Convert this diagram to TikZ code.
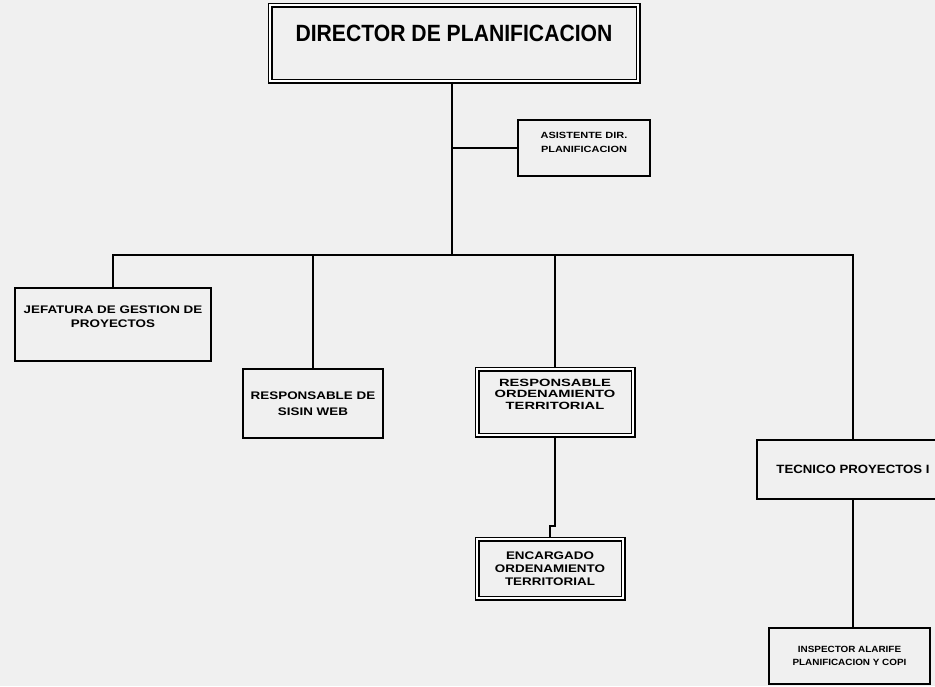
\documentclass[tikz,border=0pt]{standalone}
\usepackage{fontspec}
\setmainfont{Liberation Sans}
\newfontfamily\dirfont[FakeStretch=0.9]{Liberation Sans}
\newfontfamily\semiwidefont[FakeStretch=1.1]{Liberation Sans}
\newfontfamily\widefont[FakeStretch=1.22]{Liberation Sans}
\newfontfamily\widerfont[FakeStretch=1.4]{Liberation Sans}
\usetikzlibrary{calc,positioning}

\tikzset{
  box/.style={draw, line width=2pt, align=center, font=\bfseries, inner sep=2pt},
  thickbox/.style={box, double, double distance=1.4pt, line width=1.8pt},
  lbl/.style={align=center, inner sep=0pt},
  link/.style={line width=2pt}
}

\begin{document}
\begin{tikzpicture}[x=1pt,y=-1pt]
                \useasboundingbox[fill=black!6] (0,0) rectangle (935,686);
                \node[thickbox, minimum width=368pt, minimum height=76pt] (dir) at (454,43) {};
                \node[lbl, font=\dirfont\bfseries\fontsize{23.5}{28}\selectfont] (dirtxt) at ($(dir.center)+(0,-10)$) {DIRECTOR DE PLANIFICACION};
                \node[box, minimum width=132pt, minimum height=56pt] (asis) at (584,148) {};
                \node[lbl, font=\widefont\bfseries\fontsize{9}{14}\selectfont] (asistxt) at ($(asis.center)+(0,-6)$) {ASISTENTE DIR.\\PLANIFICACION};
                \node[box, minimum width=196pt, minimum height=73pt] (jef) at (113,324.5) {};
                \node[lbl, font=\widefont\bfseries\fontsize{11}{14}\selectfont, below=19pt of jef.north] (jeftxt) {JEFATURA DE GESTION DE\\PROYECTOS};
                \node[box, minimum width=140pt, minimum height=69pt, font=\widefont\bfseries\fontsize{11}{16}\selectfont] (sisin) at (313,403.5) {RESPONSABLE DE\\SISIN WEB};
                \node[thickbox, minimum width=156pt, minimum height=66pt] (rot) at (555,402) {};
                \node[lbl, font=\widerfont\bfseries\fontsize{10.5}{11.5}\selectfont] (rottxt) at ($(rot.center)+(0,-8)$) {RESPONSABLE\\ORDENAMIENTO\\TERRITORIAL};
                \node[thickbox, minimum width=146pt, minimum height=59pt, font=\widefont\bfseries\fontsize{11}{13}\selectfont] (enc) at (550,568.5) {ENCARGADO\\ORDENAMIENTO\\TERRITORIAL};
                \node[box, minimum width=192pt, minimum height=59pt, font=\semiwidefont\bfseries\fontsize{12}{15}\selectfont] (tec) at (853,469.5) {TECNICO PROYECTOS I};
                \node[box, minimum width=161pt, minimum height=56pt, font=\semiwidefont\bfseries\fontsize{9}{13}\selectfont] (insp) at (849.5,656) {INSPECTOR ALARIFE\\PLANIFICACION Y COPI};
                \coordinate (bus) at (452,255);
                \coordinate (tap) at (452,148);
                \draw[link] (dir.south -| bus) -- (bus);
                \draw[link] (tap) -- (asis.west);
                \draw[link] (jef.north) |- (bus) -| (tec.north);
                \draw[link] (sisin.north) -- (sisin.north |- bus);
                \draw[link] (rot.north) -- (rot.north |- bus);
                \draw[link] (rot.south) -- ++(0,90) -| (enc.north);
                \draw[link] (tec.south) -- (tec.south |- insp.north);
            \end{tikzpicture}
\end{document}
